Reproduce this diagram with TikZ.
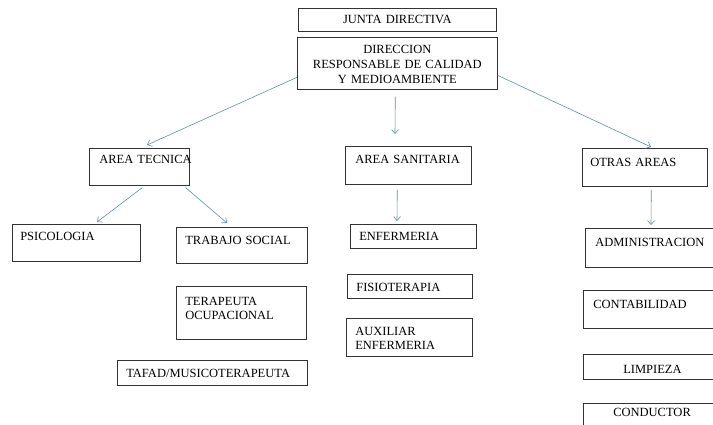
\documentclass[tikz,border=0pt]{standalone}
\usepackage{fontspec}
\setmainfont{Liberation Serif}
\usetikzlibrary{arrows.meta}
\definecolor{linkcol}{RGB}{96,146,158}
\begin{document}
\begin{tikzpicture}[
x=1pt,y=-1pt,
rect/.style={
draw=black!80,
line width=0.6pt,
anchor=north west,
align=left,
inner ysep=0pt,
font=\fontsize{12.5}{15}\selectfont
},
link/.style={
draw=linkcol,
line width=0.6pt,
-{Straight Barb[length=4pt,width=7pt]}
}
]
\useasboundingbox (0,0) rectangle (713,425);

\node[rect, align=center, inner xsep=4pt, text width=190pt, text height=15.3pt, text depth=7.7pt] (junta) at (298,8) {JUNTA DIRECTIVA};
\node[rect, align=center, inner xsep=4pt, text width=192pt, text height=16pt, text depth=36pt] (dir) at (297,37) {DIRECCION\\RESPONSABLE DE CALIDAD\\Y MEDIOAMBIENTE};

\node[rect, inner xsep=10pt, text width=80pt, text height=15.3pt, text depth=21.7pt] (tec) at (89,148) {\mbox{AREA TECNICA}};
\node[rect, inner xsep=10pt, text width=106pt, text height=17.3pt, text depth=20.7pt] (san) at (345,146) {\mbox{AREA SANITARIA}};
\node[rect, inner xsep=8pt, text width=109pt, text height=18.3pt, text depth=19.7pt] (otr) at (582,148) {OTRAS AREAS};

\node[rect, inner xsep=8pt, text width=112pt, text height=16.5pt, text depth=20.5pt] (psi) at (12,224) {PSICOLOGIA};
\node[rect, inner xsep=9pt, text width=113pt, text height=17.5pt, text depth=18.5pt] (tra) at (176,227) {TRABAJO SOCIAL};
\node[rect, inner xsep=9pt, text width=112pt, text height=19.3pt, text depth=33.7pt] (ter) at (176,286) {TERAPEUTA\\[-1.5pt]OCUPACIONAL};
\node[rect, inner xsep=9pt, text width=172pt, text height=17pt, text depth=8pt] (taf) at (117,360) {TAFAD/MUSICOTERAPEUTA};

\node[rect, inner xsep=9pt, text width=108pt, text height=16.5pt, text depth=7.5pt] (enf) at (350,224) {ENFERMERIA};
\node[rect, inner xsep=9pt, text width=107pt, text height=17.3pt, text depth=6.7pt] (fis) at (347,274) {FISIOTERAPIA};
\node[rect, inner xsep=9pt, text width=108pt, text height=17.3pt, text depth=20.7pt] (aux) at (346,318) {AUXILIAR\\[-1.5pt]ENFERMERIA};

\node[rect, inner xsep=10pt, text width=120pt, text height=18.3pt, text depth=20.7pt] (adm) at (585,228) {ADMINISTRACION};
\node[rect, inner xsep=10pt, text width=120pt, text height=18.3pt, text depth=19.7pt] (con) at (583,290) {CONTABILIDAD};
\node[rect, inner xsep=40pt, text width=60pt, text height=19pt, text depth=6pt] (lim) at (583,354) {LIMPIEZA};
\node[rect, inner xsep=30pt, text width=80pt, text height=13.3pt, text depth=16.7pt] (cond) at (583,403) {CONDUCTOR};

\coordinate (midtip) at (395,134);

\draw[link] ([yshift=-14pt]dir.west) -- ([xshift=58pt,yshift=3pt]tec.north west);
\draw[link] ([xshift=-2pt,yshift=-7pt]dir.south) -- (midtip);
\draw[link] ([yshift=-12pt]dir.east) -- ([xshift=69pt,yshift=1pt]otr.north west);

\draw[link] ([xshift=3pt,yshift=-2pt]tec.south) -- ([xshift=85pt,yshift=2pt]psi.north west);
\draw[link] ([xshift=-4pt,yshift=-2pt]tec.south east) -- ([xshift=51pt,yshift=4pt]tra.north west);
\draw[link] ([xshift=-11pt,yshift=-5pt]san.south) -- ([xshift=47pt,yshift=3pt]enf.north west);
\draw[link] ([xshift=6.5pt,yshift=-3pt]otr.south) -- ([xshift=66pt,yshift=3pt]adm.north west);

\end{tikzpicture}
\end{document}
